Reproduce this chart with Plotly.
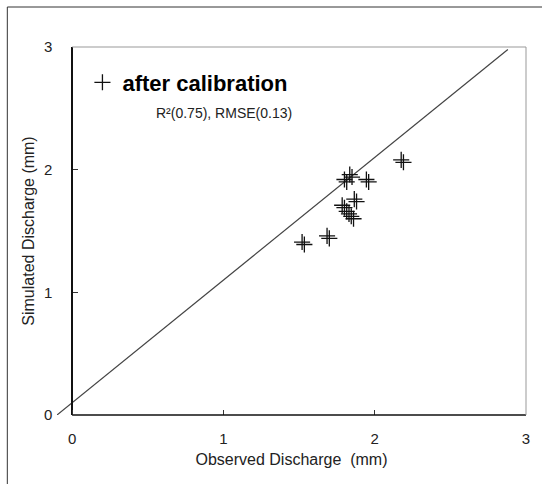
import plotly.graph_objects as go

# Observed vs simulated discharge (mm); each event was plotted twice (two overlapping runs)
obs_a = [1.52, 1.685, 1.80, 1.835, 1.945, 1.865, 1.785, 1.815, 1.845, 2.175]
sim_a = [1.41, 1.46, 1.92, 1.96, 1.92, 1.76, 1.71, 1.66, 1.62, 2.08]
obs_b = [1.535, 1.70, 1.815, 1.85, 1.96, 1.88, 1.80, 1.83, 1.86, 2.19]
sim_b = [1.39, 1.44, 1.90, 1.94, 1.90, 1.74, 1.69, 1.64, 1.60, 2.06]

# Reference line (y = x + 0.1)
ref_x = [-0.1, 2.88]
ref_y = [0.0, 2.98]

ticks = [0, 1, 2, 3]
tick_text = ["0", "1", "2", "3"]

FONT = "Liberation Sans, Arial, sans-serif"
TXT = "#222222"

fig = go.Figure()
fig.add_trace(go.Scatter(
    x=ref_x, y=ref_y, mode="lines",
    line=dict(color="#444444", width=1.2),
    showlegend=False, hoverinfo="skip"))
fig.add_trace(go.Scatter(
    x=obs_a + obs_b, y=sim_a + sim_b, mode="markers",
    name="<b>after calibration</b>",
    marker=dict(symbol="cross-thin", size=11.5, color="#111111",
                line=dict(color="#111111", width=1.3)),
    cliponaxis=False))

x0, x1 = -0.1, 3.0
fig.update_layout(
    width=542, height=484,
    margin=dict(l=57, r=13, t=47, b=69),
    paper_bgcolor="white", plot_bgcolor="white",
    font=dict(family=FONT, color=TXT),
    showlegend=True,
    legend=dict(x=0.05 + 2 / 472, y=0.985 - 9 / 368, xanchor="left", yanchor="top",
                bgcolor="rgba(0,0,0,0)",
                font=dict(size=22, color="#000000", family=FONT),
                itemwidth=30),
    xaxis=dict(range=[x0, x1], tickvals=ticks, ticktext=tick_text,
               ticks="inside", ticklen=5, tickcolor="#333333", tickwidth=1,
               showline=False, showgrid=False, zeroline=False,
               tickfont=dict(size=15, color=TXT),
               ticklabelstandoff=13,
               title=dict(text="Observed Discharge  (mm)", font=dict(size=16, color=TXT), standoff=7)),
    yaxis=dict(range=[0, 3], tickvals=ticks, ticktext=tick_text,
               anchor="free", position=(0 - x0) / (x1 - x0),
               ticks="inside", ticklen=5, tickcolor="#333333", tickwidth=1,
               showline=True, linecolor="#111111", linewidth=1.5,
               showgrid=False, zeroline=False,
               tickfont=dict(size=15, color=TXT),
               ticklabelstandoff=16,
               title=dict(text="Simulated Discharge (mm)", font=dict(size=16, color=TXT), standoff=4)),
    annotations=[dict(text="R²(0.75), RMSE(0.13)", xref="paper", yref="paper",
                      x=(155 - 57) / 472, y=(415 - 113) / 368, xanchor="left", yanchor="middle",
                      showarrow=False, font=dict(size=14, color=TXT, family=FONT))],
    shapes=[
        # bottom axis line
        dict(type="line", xref="x", yref="paper", x0=0, x1=3, y0=0, y1=0,
             line=dict(color="#111111", width=1.5)),
        # top border
        dict(type="line", xref="x", yref="paper", x0=0, x1=3, y0=1, y1=1,
             line=dict(color="#999999", width=1)),
        # right border
        dict(type="line", xref="paper", yref="paper", x0=1, x1=1, y0=0, y1=1,
             line=dict(color="#999999", width=1)),
        # outer frame (top and left)
        dict(type="line", xref="paper", yref="paper",
             x0=(7 - 57) / 472, x1=(542 - 57) / 472 + 0.01,
             y0=(415 - 7) / 368, y1=(415 - 7) / 368,
             line=dict(color="#333333", width=1)),
        dict(type="line", xref="paper", yref="paper",
             x0=(7 - 57) / 472, x1=(7 - 57) / 472,
             y0=(415 - 7) / 368, y1=(415 - 490) / 368,
             line=dict(color="#333333", width=1)),
    ],
)

fig.write_html("out.html", config={"displayModeBar": False},
               post_script="document.body.style.margin='0';")
